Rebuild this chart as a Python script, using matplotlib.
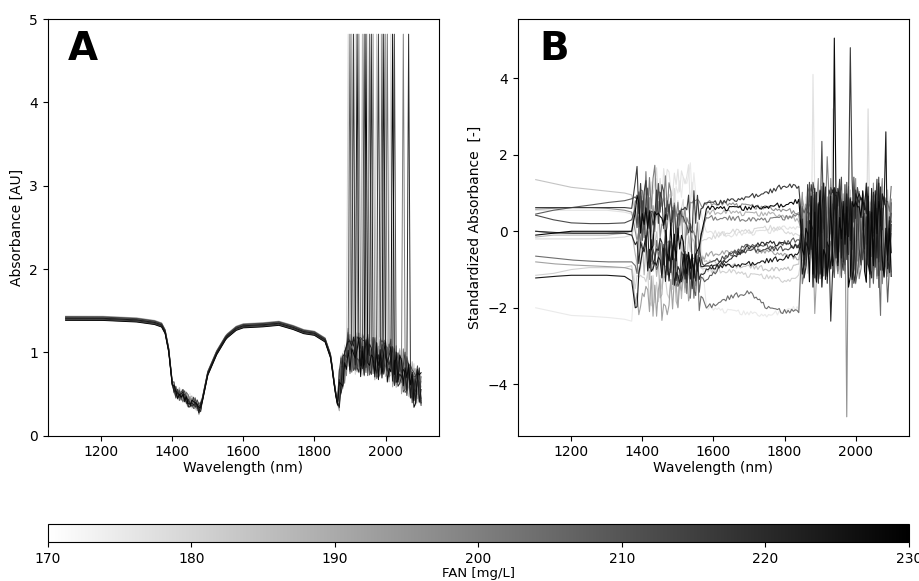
import numpy as np
import matplotlib
matplotlib.use('Agg')
import matplotlib.pyplot as plt
from matplotlib import cm, colors

# FAN value of each sample (colour of its spectrum)
FAN = [175, 177, 179, 181, 184, 188, 192, 196, 200, 204, 208, 212, 216, 220, 224, 228]

WL = np.arange(1100, 2101, 5)

# hand-read zig-zag used for the noisy parts of the spectra
NOISE = [0.6, -0.8, 0.3, 0.9, -0.5, -0.2, 0.7, -0.9, 0.4, 0.1, -0.6, 0.8, -0.3, 0.5, -0.7,
         0.9, -0.1, -0.8, 0.6, 0.2, -0.4, 0.7, -0.9, 0.3, 0.8, -0.5, 0.1, -0.7, 0.6, -0.2,
         0.9, -0.6, 0.4, -0.8, 0.2, 0.7, -0.3, -0.9, 0.5, 0.0, 0.8, -0.4, 0.6, -0.7, 0.3,
         -0.5, 0.7, -0.9, 0.2, 0.6, -0.3, -0.8, 0.9, -0.1, 0.5, -0.7, 0.4, 0.8, -0.6, 0.1]
NOISE_SHIFT = [0, 7, 13, 21, 29, 36, 44, 51, 5, 17, 26, 33, 40, 48, 55, 11]

# ---- panel A : raw absorbance ----
A_KNOT_WL = [1100, 1200, 1300, 1350, 1370, 1380, 1390, 1400, 1410, 1440, 1470, 1478, 1488,
             1500, 1524, 1552, 1580, 1600, 1650, 1700, 1740, 1770, 1800, 1830, 1846, 1858,
             1866, 1875, 1885, 1895, 1950, 2000, 2030, 2060, 2080, 2100]
A_KNOT_ABS = [1.41, 1.41, 1.39, 1.36, 1.33, 1.25, 1.03, 0.63, 0.52, 0.45, 0.36, 0.30, 0.50,
              0.75, 0.99, 1.19, 1.29, 1.32, 1.33, 1.35, 1.30, 1.25, 1.23, 1.15, 0.95, 0.55,
              0.37, 0.75, 0.85, 1.0, 0.95, 0.92, 0.82, 0.72, 0.6, 0.6]
A_OFFSET = [0.02, -0.01, 0.015, -0.02, 0.0, 0.025, -0.015, 0.01, -0.005, 0.02, -0.02, 0.005,
            0.015, -0.01, 0.0, -0.025]
A_DIP_AMP = [0.08, 0.06, 0.07, 0.09, 0.05, 0.07, 0.06, 0.08, 0.05, 0.07, 0.06, 0.08, 0.07,
             0.05, 0.06, 0.07]
A_NOISE_AMP = [0.26, 0.22, 0.28, 0.25, 0.2, 0.26, 0.28, 0.22, 0.25, 0.3, 0.22, 0.26, 0.28,
               0.25, 0.22, 0.26]
A_SPIKE_WL = [1895, 1900, 1905, 1910, 1915, 1920, 1925, 1935, 1940, 1945, 1950, 1955, 1960,
              1965, 1975, 1980, 1985, 1990, 1995, 2000, 2005, 2015, 2020, 2025, 2050, 2065]
A_SPIKE_SAMPLE = [3, 10, 6, 12, 1, 14, 8, 5, 11, 15, 2, 9, 13, 7, 4, 12, 0, 10, 14, 6, 9, 3,
                  15, 11, 8, 13]
A_SPIKE_TOP = 4.82

# ---- panel B : standardized absorbance ----
B_LEFT_WL = [1100, 1150, 1200, 1250, 1300, 1350, 1370, 1380]
B_LEFT = [
    [-2.0, -2.1, -2.2, -2.22, -2.25, -2.3, -2.35, -1.0],
    [0.55, 0.55, 0.55, 0.55, 0.55, 0.5, 0.45, 0.3],
    [-0.2, -0.2, -0.2, -0.2, -0.18, -0.15, -0.1, 0.2],
    [-1.15, -1.1, -1.0, -0.95, -0.95, -0.95, -0.9, -1.5],
    [1.35, 1.25, 1.15, 1.1, 1.05, 1.0, 0.95, 0.5],
    [-0.15, -0.1, -0.1, -0.1, -0.1, -0.05, 0.0, -0.6],
    [-0.8, -0.85, -0.88, -0.9, -0.92, -0.95, -1.0, -1.9],
    [0.58, 0.6, 0.62, 0.62, 0.6, 0.55, 0.5, 0.0],
    [0.0, -0.05, -0.05, -0.05, -0.05, -0.02, 0.0, 0.8],
    [-0.65, -0.7, -0.75, -0.78, -0.8, -0.8, -0.8, -0.9],
    [0.45, 0.55, 0.62, 0.68, 0.75, 0.8, 0.85, 0.9],
    [0.42, 0.3, 0.22, 0.2, 0.2, 0.22, 0.3, 0.6],
    [0.62, 0.62, 0.62, 0.62, 0.62, 0.62, 0.6, 1.3],
    [0.0, -0.03, -0.05, -0.05, -0.05, -0.05, -0.1, -0.35],
    [-1.22, -1.18, -1.15, -1.15, -1.15, -1.18, -1.3, -2.0],
    [-0.1, -0.05, 0.0, 0.0, 0.0, 0.0, 0.0, 0.5],
]
B_MID_WL = [1400, 1450, 1500, 1550]
B_MID = [
    [-0.5, 0.0, 1.2, 1.4], [0.5, 1.0, 1.5, 1.0], [0.8, 1.2, 0.5, -0.2], [-1.5, -1.6, -1.2, -0.9],
    [0.0, -0.5, -0.8, -0.5], [-0.8, -1.2, -1.5, -1.0], [-1.5, -1.8, -1.7, -1.0], [0.6, 0.3, 0.2, 0.5],
    [1.0, 1.2, 0.3, -0.5], [0.2, -0.5, -1.0, -1.3], [0.3, -0.8, -0.9, -1.2], [0.5, 0.8, 0.2, -0.6],
    [0.8, 0.5, 0.0, 0.6], [-0.5, -0.3, -0.8, -1.3], [-0.5, -0.8, -1.0, -1.0], [0.2, 0.0, -0.5, -0.8],
]
B_LOW_WL = [1580, 1650, 1700, 1760, 1800, 1840]
B_LOW = [
    [-2.0, -2.1, -2.15, -2.2, -2.05, -2.0], [0.0, -0.1, -0.05, 0.0, 0.1, 0.1],
    [-0.2, 0.0, 0.0, 0.1, 0.0, -0.1], [-1.0, -1.05, -1.15, -1.2, -1.3, -1.2],
    [-0.8, -0.9, -0.9, -1.0, -1.0, -0.9], [0.5, 0.5, 0.45, 0.45, 0.4, 0.3],
    [-0.6, -0.55, -0.5, -0.55, -0.6, -0.7], [0.75, 0.7, 0.65, 0.6, 0.55, 0.5],
    [0.35, 0.35, 0.3, 0.3, 0.35, 0.4], [-2.0, -1.7, -1.6, -2.05, -2.1, -2.1],
    [-1.3, -0.6, -0.35, -0.4, -0.3, -0.2], [-0.9, -0.6, -0.5, -0.45, -0.45, -0.4],
    [0.7, 0.8, 0.9, 1.05, 1.2, 1.15], [-1.0, -0.7, -0.4, -0.3, -0.35, -0.4],
    [-0.95, -0.9, -0.85, -0.75, -0.7, -0.6], [0.6, 0.6, 0.6, 0.65, 0.7, 0.8],
]
B_RIGHT_LEVEL = [0.0, 0.1, -0.2, -0.3, 0.2, 0.0, -0.1, 0.3, -0.2, 0.0, -0.3, 0.2, 0.1, -0.1, 0.0, -0.2]
B_MID_AMP = [0.5, 0.6, 0.6, 0.5, 0.55, 0.6, 0.6, 0.5, 0.65, 0.6, 0.6, 0.6, 0.65, 0.6, 0.5, 0.65]
B_LOW_AMP = [0.07] * 16
B_RIGHT_AMP = [0.9, 1.0, 0.9, 1.0, 1.1, 1.1, 1.2, 1.2, 1.3, 1.3, 1.3, 1.35, 1.4, 1.4, 1.4, 1.4]
B_SPIKE_SAMPLE = [1, 6, 13, 15, 0, 7, 12, 2, 14, 9, 10, 11, 8]
B_SPIKE_WL = [1880, 1885, 1930, 1940, 1935, 1975, 1985, 2035, 2085, 2070, 2090, 1905, 1920]
B_SPIKE_VAL = [4.1, -2.15, -2.35, 5.05, 3.2, -4.85, 4.8, 3.2, 2.6, -2.2, -1.85, 2.35, 1.95]


def zigzag(i, n):
    shift = NOISE_SHIFT[i % len(NOISE_SHIFT)]
    return np.take(NOISE, np.arange(n) * 7 + shift, mode='wrap')


def spectrum_a(i):
    y = np.interp(WL, A_KNOT_WL, A_KNOT_ABS) + A_OFFSET[i]
    dip = (WL >= 1405) & (WL <= 1480)
    y[dip] += A_DIP_AMP[i] * zigzag(i, dip.sum())
    noisy = WL >= 1870
    y[noisy] += A_NOISE_AMP[i] * zigzag(i + 3, noisy.sum())
    for w, s in zip(A_SPIKE_WL, A_SPIKE_SAMPLE):
        if s == i:
            y[WL == w] = A_SPIKE_TOP
    return y


def spectrum_b(i):
    kx = B_LEFT_WL + B_MID_WL + B_LOW_WL + [1850, 2100]
    ky = B_LEFT[i] + B_MID[i] + B_LOW[i] + [B_RIGHT_LEVEL[i]] * 2
    y = np.interp(WL, kx, ky)
    mid = (WL >= 1385) & (WL <= 1560)
    y[mid] += B_MID_AMP[i] * zigzag(i, mid.sum())
    low = (WL > 1560) & (WL < 1850)
    y[low] += B_LOW_AMP[i] * zigzag(i + 5, low.sum())
    right = WL >= 1850
    y[right] += B_RIGHT_AMP[i] * zigzag(i + 9, right.sum())
    for s, w, v in zip(B_SPIKE_SAMPLE, B_SPIKE_WL, B_SPIKE_VAL):
        if s == i:
            y[WL == w] = v
    return y


norm = colors.Normalize(vmin=170, vmax=230)
cmap = plt.get_cmap('gray_r')

fig = plt.figure(figsize=(9.2, 5.81), dpi=100)
axA = fig.add_axes([0.052, 0.250, 0.425, 0.717])
axB = fig.add_axes([0.563, 0.250, 0.425, 0.717])
cax = fig.add_axes([0.052, 0.067, 0.936, 0.031])

order = np.argsort(FAN)
for i in order:
    c = cmap(norm(FAN[i]))
    axA.plot(WL, spectrum_a(i), color=c, lw=0.7)
    axB.plot(WL, spectrum_b(i), color=c, lw=0.8)

axA.set_ylim(0, 5)
axA.set_ylabel('Absorbance [AU]')
axA.set_xlabel('Wavelength (nm)', labelpad=1)
axA.set_xticks([1200, 1400, 1600, 1800, 2000])
axB.set_ylabel('Standardized Absorbance  [-]')
axB.set_xlabel('Wavelength (nm)', labelpad=1)
axB.set_xticks([1200, 1400, 1600, 1800, 2000])
axB.set_yticks([-4, -2, 0, 2, 4])

axA.text(0.05, 0.975, 'A', transform=axA.transAxes, fontsize=28, fontweight='heavy', va='top')
axB.text(0.055, 0.975, 'B', transform=axB.transAxes, fontsize=28, fontweight='heavy', va='top')

sm = cm.ScalarMappable(norm=norm, cmap=cmap)
cb = fig.colorbar(sm, cax=cax, orientation='horizontal')
cb.set_ticks([170, 180, 190, 200, 210, 220, 230])
cb.ax.tick_params(labelsize=10)
cb.set_label('FAN [mg/L]', fontsize=9.5, labelpad=1)

fig.savefig('out.png', dpi=100)
